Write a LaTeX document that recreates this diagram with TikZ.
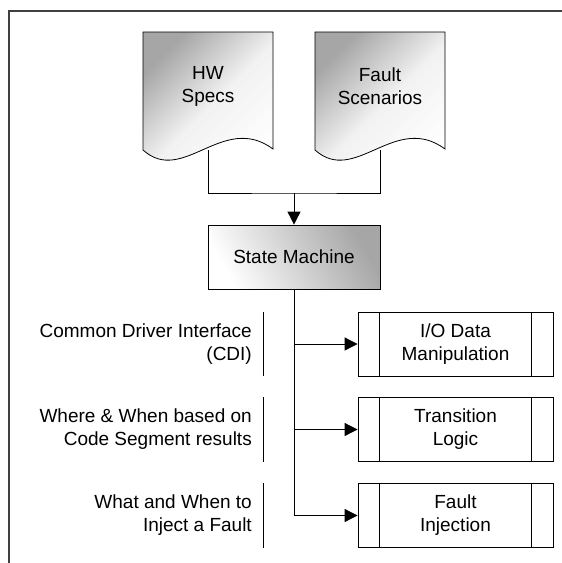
\documentclass[tikz,border=0pt]{standalone}
\usepackage{fontspec}
\setmainfont{Liberation Sans}
\usetikzlibrary{arrows.meta}

\definecolor{framegray}{HTML}{404040}
\definecolor{shadegray}{HTML}{A6A6A6}

\tikzset{
  lbl/.style={font=\fontsize{19}{23}\selectfont, align=center, inner sep=0pt},
  sidenote/.style={font=\fontsize{19}{23}\selectfont, align=right, inner sep=0pt, anchor=east},
  docfill/.style={draw=black, line width=0.8pt, top color=shadegray, bottom color=white,
    middle color=white!85!shadegray, shading angle=45},
  smbox/.style={draw=black, line width=0.8pt, minimum width=172pt, minimum height=64pt,
    top color=shadegray, bottom color=white, shading angle=-60, font=\fontsize{19}{23}\selectfont},
  procbox/.style={draw=black, line width=0.8pt, minimum width=195pt, minimum height=64pt,
    align=center, font=\fontsize{19}{23}\selectfont},
  flow/.style={line width=0.8pt, -{Triangle[length=13pt,width=13pt]}},
  link/.style={line width=0.8pt}
}

\begin{document}
\begin{tikzpicture}[x=1pt,y=-1pt]

\useasboundingbox (0,0) rectangle (562,563);

% Frame (left and top only)
\draw[framegray, line width=1.3pt] (9,563) -- (9,11) -- (562,11);

% Documents: HW Specs (left) and Fault Scenarios (right)
\draw[docfill] (143,150) -- (143,32) -- (273,32) -- (273,149)
  .. controls (223,112) and (183,186) .. (143,150) -- cycle;
\draw[docfill] (315,150) -- (315,32) -- (445,32) -- (445,149)
  .. controls (395,112) and (355,186) .. (315,150) -- cycle;
\node[lbl] (hw) at (208,86) {HW\\Specs};
\node[lbl] (fs) at (380,86) {Fault\\Scenarios};
\coordinate (hwbot) at (208,150);
\coordinate (fsbot) at (380,150);
\coordinate (merge) at (294,193);

% State machine
\node[smbox] (sm) at (294,257) {State Machine};

% Processes
\node[procbox] (io) at (455.5,344) {I/O Data\\Manipulation};
\node[procbox] (tl) at (455.5,429.5) {Transition\\Logic};
\node[procbox] (fi) at (455.5,515.5) {Fault\\Injection};
\foreach \b in {io,tl,fi} {
  \draw[link] ([xshift=22pt]\b.north west) -- ([xshift=22pt]\b.south west);
  \draw[link] ([xshift=-22pt]\b.north east) -- ([xshift=-22pt]\b.south east);
}

% Side notes
\node[sidenote] (cdi) at (252,344) {Common Driver Interface\\(CDI)};
\node[sidenote] (where) at (252,429.5) {Where \& When based on\\Code Segment results};
\node[sidenote] (what) at (252,515.5) {What and When to\\Inject a Fault};
\draw[link] (263,312) -- (263,376);
\draw[link] (263,397) -- (263,462);
\draw[link] (263,483) -- (263,548);

% Connectors
\draw[link] (hwbot) |- (merge) -| (fsbot);
\draw[flow] (merge) -- (sm.north);
\draw[flow] (sm.south) |- (io.west);
\draw[flow] (sm.south) |- (tl.west);
\draw[flow] (sm.south) |- (fi.west);

\end{tikzpicture}
\end{document}
